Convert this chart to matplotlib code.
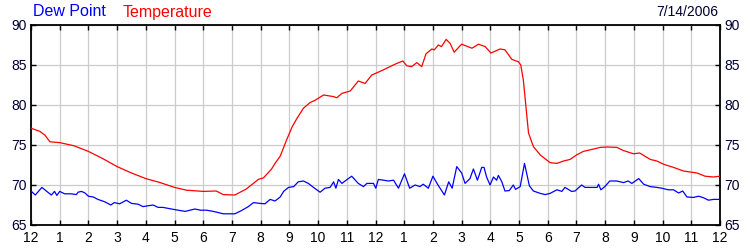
import matplotlib
matplotlib.use("Agg")
import matplotlib.pyplot as plt

plt.rcParams['font.family'] = ['Liberation Sans', 'DejaVu Sans']

temp_hours = [0.0, 0.31, 0.48, 0.66, 1.0, 1.5, 2.0, 2.5, 3.0, 3.5, 4.0, 4.5, 5.0, 5.42, 6.0, 6.45, 6.7,
              7.1, 7.5, 7.92, 8.1, 8.38, 8.5, 8.68, 8.9, 9.1, 9.26, 9.49, 9.72, 9.9, 10.19, 10.54,
              10.65, 10.83, 11.12, 11.4, 11.64, 11.87, 12.22, 12.45, 12.68, 12.95, 13.09, 13.26,
              13.44, 13.61, 13.76, 13.96, 14.05, 14.19, 14.3, 14.46, 14.6, 14.74, 15.0, 15.36,
              15.59, 15.82, 16.02, 16.34, 16.51, 16.75, 16.98, 17.06, 17.15, 17.24, 17.33, 17.5,
              17.74, 18.08, 18.32, 18.55, 18.78, 19.0, 19.24, 19.48, 19.83, 20.06, 20.41, 20.64,
              20.99, 21.2, 21.57, 21.8, 22.03, 22.38, 22.73, 23.2, 23.48, 23.77, 24.0]
temperature = [77.1, 76.7, 76.25, 75.4, 75.3, 74.9, 74.2, 73.3, 72.3, 71.5, 70.8, 70.3, 69.7, 69.35,
               69.2, 69.25, 68.8, 68.75, 69.5, 70.7, 70.9, 72.0, 72.7, 73.6, 75.6, 77.3, 78.3, 79.6,
               80.3, 80.6, 81.25, 81.05, 80.9, 81.45, 81.75, 83.0, 82.7, 83.75, 84.3, 84.7, 85.1,
               85.5, 84.9, 84.8, 85.3, 84.8, 86.4, 87.0, 86.9, 87.5, 87.3, 88.2, 87.7, 86.6, 87.6,
               87.1, 87.6, 87.3, 86.5, 87.0, 86.9, 85.7, 85.4, 85.0, 83.1, 79.8, 76.5, 74.8, 73.75,
               72.8, 72.7, 73.0, 73.2, 73.75, 74.2, 74.4, 74.7, 74.75, 74.7, 74.3, 73.9, 74.0, 73.2,
               73.0, 72.6, 72.2, 71.75, 71.5, 71.1, 71.0, 71.1]

dew_hours = [0.0, 0.15, 0.38, 0.55, 0.71, 0.82, 0.9, 1.0, 1.17, 1.4, 1.58, 1.64, 1.76, 1.88, 2.0,
             2.17, 2.33, 2.57, 2.78, 2.9, 3.09, 3.32, 3.5, 3.73, 3.9, 4.25, 4.43, 4.6, 4.89, 5.37,
             5.71, 5.9, 6.12, 6.35, 6.7, 7.1, 7.33, 7.57, 7.75, 7.98, 8.15, 8.33, 8.5, 8.68, 8.8,
             8.97, 9.15, 9.31, 9.49, 9.66, 9.84, 10.07, 10.24, 10.42, 10.54, 10.62, 10.71, 10.83,
             10.94, 11.17, 11.4, 11.58, 11.7, 11.93, 12.01, 12.1, 12.27, 12.45, 12.63, 12.8, 13.01,
             13.19, 13.38, 13.55, 13.66, 13.84, 14.0, 14.16, 14.4, 14.55, 14.67, 14.77, 14.83, 15.0,
             15.12, 15.29, 15.41, 15.55, 15.7, 15.78, 15.87, 15.99, 16.11, 16.22, 16.28, 16.4,
             16.51, 16.66, 16.8, 16.88, 17.04, 17.19, 17.36, 17.5, 17.74, 17.91, 18.08, 18.32,
             18.49, 18.6, 18.83, 18.95, 19.18, 19.3, 19.48, 19.72, 19.77, 19.85, 19.99, 20.16,
             20.4, 20.64, 20.8, 20.93, 21.17, 21.34, 21.57, 21.8, 21.97, 22.2, 22.38, 22.56, 22.7,
             22.85, 23.08, 23.26, 23.43, 23.6, 23.77, 24.0]
dew_point = [69.25, 68.75, 69.7, 69.2, 68.75, 69.2, 68.7, 69.2, 68.9, 68.9, 68.8, 69.1, 69.2, 69.0,
             68.6, 68.5, 68.2, 67.9, 67.5, 67.8, 67.65, 68.1, 67.7, 67.6, 67.3, 67.5, 67.2, 67.2,
             67.0, 66.7, 67.0, 66.85, 66.85, 66.7, 66.4, 66.4, 66.8, 67.3, 67.8, 67.7, 67.65, 68.2,
             68.0, 68.5, 69.2, 69.7, 69.8, 70.4, 70.5, 70.2, 69.7, 69.1, 69.6, 69.7, 70.4, 69.6,
             70.7, 70.2, 70.5, 71.1, 70.2, 69.8, 70.2, 70.2, 69.6, 70.7, 70.6, 70.5, 70.6, 69.6,
             71.4, 69.6, 70.0, 69.8, 70.1, 69.6, 71.1, 70.1, 68.75, 70.4, 69.6, 71.25, 72.3, 71.5,
             70.2, 70.8, 72.0, 70.6, 72.2, 72.2, 71.0, 70.0, 71.0, 70.6, 71.2, 70.4, 69.25, 69.3,
             70.0, 69.45, 69.8, 72.7, 69.9, 69.25, 68.95, 68.8, 68.95, 69.4, 69.2, 69.7, 69.2,
             69.25, 70.0, 69.7, 69.7, 69.7, 70.1, 69.4, 69.8, 70.5, 70.5, 70.3, 70.5, 70.2, 70.8,
             70.1, 69.8, 69.7, 69.6, 69.4, 69.4, 69.0, 69.25, 68.5, 68.45, 68.6, 68.4, 68.1, 68.2,
             68.2]

x_ticks = list(range(0, 25))
x_labels = ['12', '1', '2', '3', '4', '5', '6', '7', '8', '9', '10', '11',
            '12', '1', '2', '3', '4', '5', '6', '7', '8', '9', '10', '11', '12']
y_ticks = [65, 70, 75, 80, 85, 90]

fig = plt.figure(figsize=(7.5, 2.5), dpi=100)
ax = fig.add_axes([31/750, 0.1, (720-31)/750, 0.8])

ax.plot(temp_hours, temperature, color='#ff0000', lw=0.9, zorder=3)
ax.plot(dew_hours, dew_point, color='#0000ff', lw=0.9, zorder=3)

ax.set_xlim(0, 24)
ax.set_ylim(65, 90)
ax.set_xticks(x_ticks)
ax.set_xticklabels(x_labels)
ax.set_yticks(y_ticks)
ax.grid(True, color='#cccccc', lw=0.9, zorder=0)
ax.set_axisbelow(True)
for s in ax.spines.values():
    s.set_color('black')
    s.set_linewidth(1.3)

ax.tick_params(axis='x', direction='in', length=3.5, width=1, top=True, bottom=True,
               labelsize=10, pad=4, colors='black')
ax.tick_params(axis='y', direction='in', length=3.5, width=1, left=True, right=True,
               labelleft=True, labelright=True, labelsize=10, pad=3, colors='black')
for lbl in ax.get_yticklabels():
    lbl.set_color('#000033')

fig.text(33/750, 1 - 12/250, 'Dew Point', color='#0000ff', fontsize=11.5, ha='left', va='center')
fig.text(123/750, 1 - 12/250, 'Temperature', color='#ff0000', fontsize=11.5, ha='left', va='center')
fig.text(718/750, 1 - 12/250, '7/14/2006', color='#000033', fontsize=10, ha='right', va='center')

fig.savefig('out.png', dpi=100)
